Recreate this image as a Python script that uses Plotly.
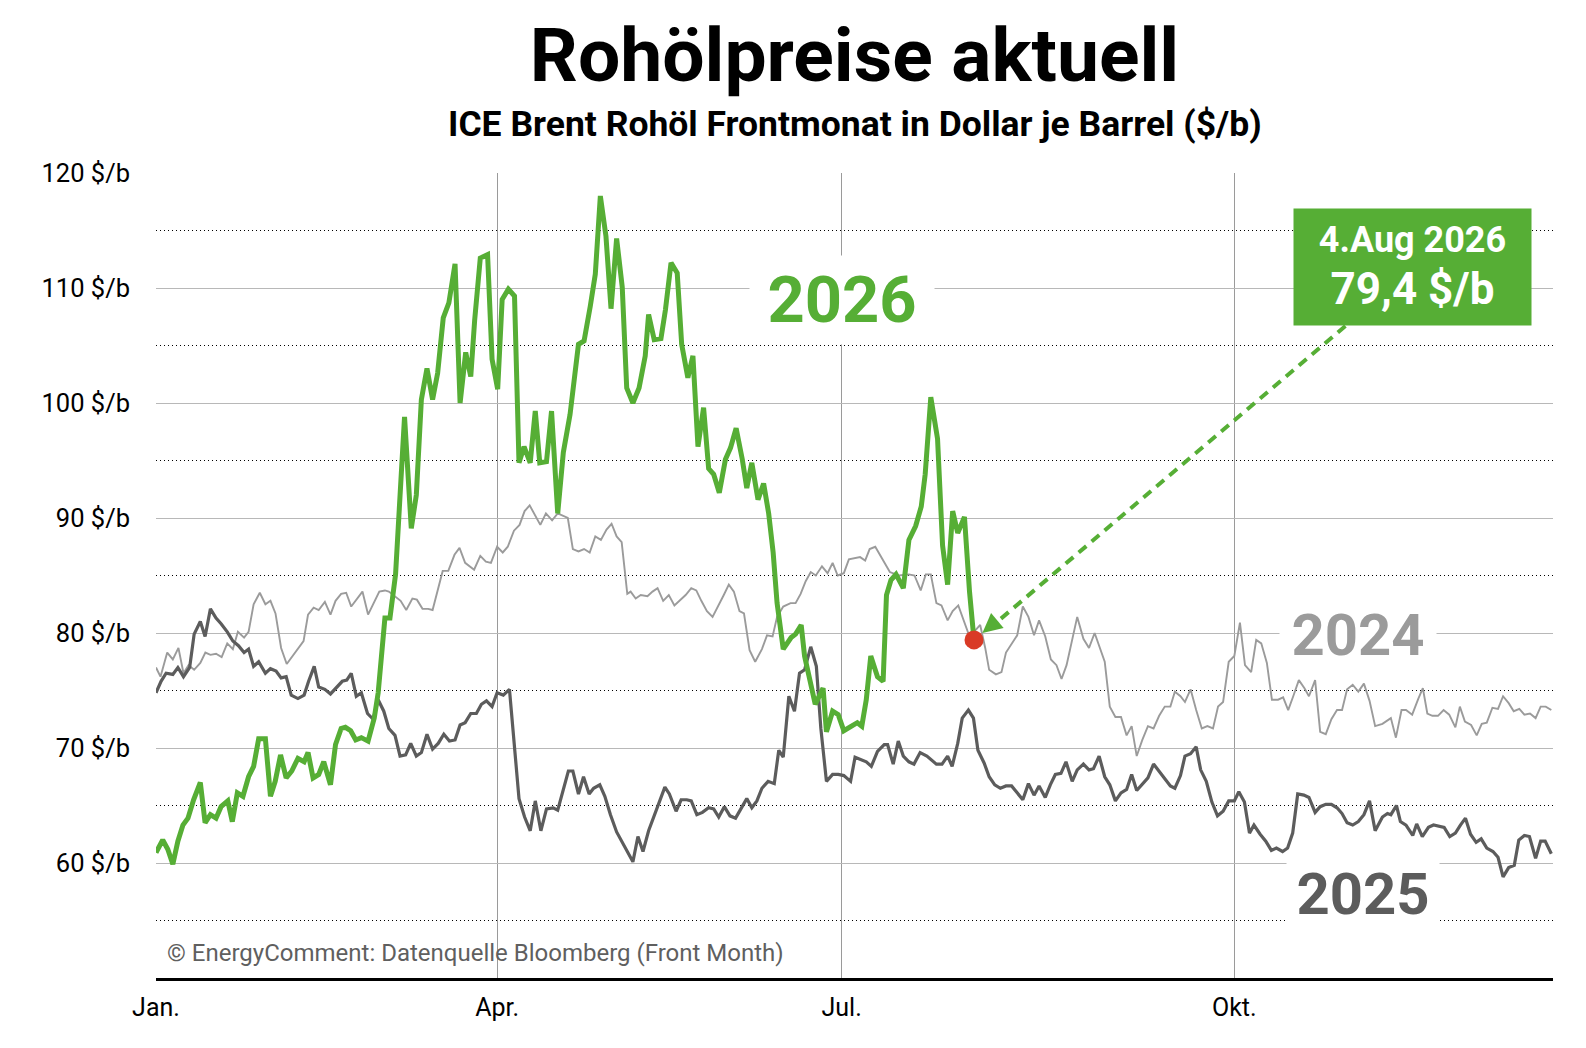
import plotly.graph_objects as go

# Brent Frontmonat, x = Handelstag seit Jahresbeginn, y = Schlusskurs in $/b
tage_2024 = [0, 0.8, 2.0, 3.0, 4.0, 4.9, 5.8, 6.8, 7.9, 8.8, 9.7, 10.7, 11.7, 12.7, 13.7, 14.6, 15.7, 16.5,
             17.4, 18.5, 19.5, 20.4, 21.3, 22.3, 23.3, 24.3, 25.3, 26.3, 27.1, 28.1, 29.0, 30.1, 31.1, 32.0,
             33.0, 33.9, 34.8, 35.8, 36.8, 37.8, 38.8, 39.8, 40.8, 41.5, 43.6, 44.6, 45.7, 46.5, 47.5, 48.5,
             49.3, 50.4, 51.1, 52.1, 53.2, 54.1, 55.1, 56.7, 57.8, 58.8, 59.7, 60.8, 61.8, 62.7, 63.8, 64.8,
             65.7, 66.6, 67.6, 68.5, 69.5, 70.6, 71.6, 73.4, 74.3, 75.3, 76.3, 77.3, 78.3, 79.3, 80.3, 81.2,
             82.1, 83.0, 84.0, 84.6, 85.5, 86.4, 87.6, 88.5, 89.4, 90.4, 91.4, 92.4, 93.3, 94.4, 95.4, 96.3,
             97.2, 98.2, 99.2, 100.2, 101.2, 102.1, 103.0, 104.0, 104.8, 105.8, 106.8, 108.0, 108.9, 109.9,
             110.7, 111.8, 113.1, 114.0, 114.9, 115.8, 116.7, 117.6, 118.7, 119.7, 120.6, 121.5, 122.6, 123.5,
             124.4, 125.5, 126.4, 127.2, 128.2, 129.2, 130.8, 132.4, 134.2, 135.2, 136.3, 137.2, 138.1, 139.1,
             140.0, 141.1, 142.0, 143.0, 144.1, 145.0, 146.0, 146.9, 147.8, 148.5, 149.7, 150.7, 151.5, 152.5,
             153.5, 154.5, 155.5, 156.5, 157.4, 158.5, 159.5, 160.5, 161.4, 162.3, 163.3, 164.2, 165.3, 166.3,
             167.3, 168.3, 169.1, 170.0, 171.0, 172.0, 173.0, 173.9, 174.8, 175.8, 176.8, 177.8, 178.8, 179.8,
             180.8, 181.6, 182.6, 183.4, 184.4, 185.4, 186.4, 187.4, 188.4, 189.3, 190.2, 191.2, 192.2, 193.2,
             194.1, 195.2, 196.1, 197.0, 198.0, 198.9, 200.0, 200.9, 201.8, 202.7, 203.7, 204.7, 205.5, 206.6,
             207.5, 208.5, 209.5, 210.5, 211.4, 212.3, 213.3, 214.3, 215.3, 216.3, 217.3, 218.6, 220.1, 221.0,
             222.0, 222.8, 223.9, 225.0, 225.8, 226.6, 227.5, 228.5, 229.5, 230.5, 231.6, 232.4, 233.3, 234.4,
             235.4, 236.3, 237.2, 238.2, 239.2, 240.1, 241.1, 242.0, 243.0, 243.9, 244.9, 245.9, 246.8, 247.7,
             248.7]
brent_2024 = [77.0, 76.2, 78.3, 77.7, 78.7, 76.5, 77.2, 76.8, 77.4, 78.3, 78.1, 78.2, 77.9, 79.1, 78.6, 80.1,
              79.6, 80.1, 82.5, 83.5, 82.5, 82.8, 81.7, 78.7, 77.3, 78.0, 78.6, 79.3, 81.6, 82.2, 82.0, 82.7,
              81.6, 82.8, 83.4, 83.5, 82.3, 83.0, 83.6, 81.6, 82.6, 83.6, 83.7, 83.6, 82.8, 82.0, 83.0, 82.9,
              82.1, 82.1, 82.0, 84.0, 85.4, 85.4, 86.8, 87.4, 86.1, 85.5, 86.7, 86.2, 86.1, 87.5, 87.0, 87.5,
              88.9, 89.4, 90.6, 91.1, 90.2, 89.4, 90.4, 89.8, 90.4, 90.0, 87.3, 87.1, 87.3, 87.0, 88.4, 88.1,
              89.0, 89.5, 88.4, 87.9, 83.4, 83.6, 83.0, 83.3, 83.2, 83.6, 83.9, 82.8, 83.3, 82.4, 82.8, 83.3,
              83.9, 83.7, 82.8, 81.9, 81.4, 82.3, 83.3, 84.2, 83.6, 81.9, 81.7, 78.5, 77.5, 78.6, 79.8, 79.7,
              81.4, 82.3, 82.6, 82.6, 83.4, 84.5, 85.3, 85.0, 85.8, 85.2, 86.1, 85.0, 85.2, 86.4, 86.5, 86.6,
              86.3, 87.3, 87.5, 86.7, 85.3, 85.0, 85.1, 85.0, 83.7, 85.1, 85.1, 82.6, 82.4, 81.1, 81.9, 82.4,
              80.9, 79.7, 80.2, 80.7, 78.7, 76.8, 76.4, 76.6, 78.3, 79.1, 79.8, 82.3, 81.4, 79.8, 81.1, 79.7,
              77.7, 77.2, 76.0, 77.2, 79.3, 81.4, 79.5, 78.7, 80.0, 78.6, 77.5, 73.6, 72.7, 72.7, 71.1, 71.9,
              69.3, 70.7, 71.9, 71.7, 72.8, 73.6, 73.6, 74.9, 74.5, 74.0, 75.1, 73.3, 71.7, 71.9, 71.7, 73.6,
              74.0, 77.5, 78.0, 80.9, 77.2, 76.6, 79.4, 79.1, 77.4, 74.2, 74.2, 74.4, 73.3, 74.5, 75.9, 75.2,
              74.5, 75.9, 71.4, 71.2, 72.5, 73.3, 73.3, 75.1, 75.5, 74.9, 75.6, 74.1, 71.9, 72.1, 72.6, 70.9,
              73.3, 73.3, 72.9, 74.3, 75.2, 73.0, 72.8, 72.8, 73.3, 72.9, 71.8, 73.6, 72.3, 72.0, 71.1, 72.1,
              72.2, 73.5, 73.4, 74.5, 73.9, 73.2, 73.4, 72.9, 73.0, 72.6, 73.6, 73.6, 73.3]

tage_2025 = [0, 0.9, 1.8, 3.0, 3.9, 4.9, 6.0, 6.8, 7.9, 8.75, 9.7, 10.7, 11.6, 12.7, 13.7, 14.7, 15.7, 16.5,
             17.4, 18.3, 19.5, 20.4, 21.4, 22.3, 23.2, 24.1, 25.3, 26.4, 27.2, 28.2, 29.0, 30.1, 31.1, 32.1,
             33.2, 34.0, 34.8, 35.7, 36.6, 37.7, 38.7, 39.6, 40.6, 41.5, 42.6, 43.5, 44.5, 45.4, 46.4, 47.3,
             48.3, 49.3, 50.3, 51.3, 52.3, 53.3, 54.2, 55.1, 56.1, 57.1, 58.0, 58.9, 59.9, 60.8, 61.9, 63.0,
             63.8, 64.7, 65.7, 66.7, 67.6, 68.6, 69.6, 70.8, 71.6, 72.7, 73.5, 74.3, 75.3, 76.2, 77.2, 78.0,
             79.1, 80.0, 81.0, 82.1, 83.2, 84.0, 85.0, 85.9, 86.8, 87.8, 88.9, 89.9, 90.7, 91.5, 92.7, 93.6,
             94.6, 95.4, 96.4, 97.4, 98.5, 99.4, 100.3, 101.3, 102.3, 103.3, 104.3, 105.3, 106.2, 107.1, 108.0,
             109.1, 110.2, 111.0, 111.8, 112.8, 113.8, 114.7, 115.6, 116.7, 117.7, 118.5, 119.5, 120.6, 121.6,
             122.6, 123.8, 124.6, 126.6, 127.5, 128.6, 129.8, 130.4, 131.4, 132.3, 133.2, 134.2, 135.1, 136.2,
             137.4, 139.1, 140.1, 141.1, 141.9, 142.9, 143.7, 144.8, 145.7, 146.5, 147.6, 148.5, 149.5, 150.5,
             151.5, 152.5, 153.5, 154.5, 155.5, 156.5, 157.4, 158.5, 159.4, 160.3, 161.3, 162.2, 163.3, 164.2,
             165.3, 166.3, 167.1, 168.1, 169.1, 170.0, 171.0, 172.0, 173.0, 173.9, 174.8, 175.8, 176.8, 177.8,
             178.8, 179.8, 180.8, 181.6, 182.6, 183.4, 184.4, 185.4, 186.2, 187.2, 188.2, 189.2, 190.2, 191.2,
             192.2, 193.0, 194.0, 194.9, 195.7, 196.8, 197.8, 198.8, 199.7, 200.8, 201.7, 202.6, 203.5, 204.6,
             205.5, 206.6, 207.5, 208.5, 209.5, 210.5, 211.4, 212.3, 213.3, 214.3, 215.3, 216.3, 217.3, 218.6,
             219.5, 220.1, 221.1, 221.8, 222.8, 224.0, 224.7, 225.7, 226.8, 227.7, 228.7, 229.6, 230.6, 231.6,
             232.5, 233.4, 234.3, 235.3, 236.2, 237.2, 238.3, 239.2, 240.1, 241.1, 242.1, 242.9, 243.9, 244.8,
             245.9, 246.8, 247.6, 248.7]
brent_2025 = [74.8, 75.8, 76.5, 76.4, 77.0, 76.2, 77.0, 79.9, 81.0, 79.7, 82.1, 81.3, 80.8, 80.1, 79.3, 78.9,
              78.3, 78.6, 77.1, 77.5, 76.5, 76.9, 76.7, 76.1, 76.2, 74.6, 74.3, 74.6, 75.8, 77.1, 75.3, 75.1,
              74.7, 75.2, 75.8, 75.9, 76.5, 74.5, 74.8, 73.0, 72.5, 74.2, 73.2, 71.7, 71.1, 69.3, 69.4, 70.4,
              69.3, 69.6, 71.2, 69.9, 70.4, 71.2, 70.6, 70.7, 72.0, 72.2, 73.0, 73.0, 73.8, 74.1, 73.6, 74.8,
              74.6, 75.1, 70.4, 65.6, 64.0, 62.8, 65.4, 62.8, 64.7, 64.8, 64.6, 66.6, 68.0, 68.0, 66.0, 67.5,
              66.0, 66.5, 66.8, 65.8, 64.2, 62.7, 61.7, 61.0, 60.1, 62.3, 61.0, 62.8, 64.3, 65.5, 66.6, 66.0,
              64.5, 65.5, 65.5, 65.4, 64.2, 64.4, 64.8, 64.7, 64.0, 64.9, 64.1, 63.9, 64.7, 65.6, 64.8, 65.4,
              66.5, 67.1, 66.9, 69.8, 69.2, 74.5, 73.2, 76.5, 76.8, 78.8, 77.1, 71.7, 67.1, 67.7, 67.7, 67.6,
              67.1, 69.2, 68.8, 68.4, 69.7, 70.3, 70.3, 68.6, 70.6, 69.3, 68.8, 68.6, 69.6, 69.3, 68.6, 68.6,
              69.3, 68.4, 70.4, 72.6, 73.3, 72.6, 69.8, 68.7, 67.5, 66.8, 66.5, 66.7, 66.7, 66.1, 65.5, 66.9,
              65.9, 66.7, 65.7, 66.8, 67.7, 67.8, 68.8, 67.1, 68.1, 68.6, 68.1, 68.2, 69.3, 67.5, 66.8, 65.4,
              66.1, 66.4, 67.7, 66.3, 66.9, 67.4, 68.6, 68.0, 67.4, 66.7, 66.5, 67.6, 69.3, 69.5, 70.1, 68.1,
              67.1, 65.3, 64.1, 64.5, 65.4, 65.4, 66.2, 65.3, 62.6, 63.3, 62.5, 61.9, 61.1, 61.3, 61.0, 61.3,
              62.6, 66.0, 65.9, 65.7, 64.4, 64.9, 65.1, 65.1, 64.8, 64.3, 63.5, 63.3, 63.6, 64.2, 65.4, 62.8,
              64.0, 64.3, 64.2, 65.0, 63.6, 63.3, 62.4, 63.4, 62.3, 63.1, 63.3, 63.2, 63.1, 62.3, 62.6, 63.3,
              63.9, 62.5, 61.8, 62.1, 61.3, 61.0, 60.5, 58.8, 59.6, 59.8, 62.0, 62.4, 62.3, 60.4, 61.9, 61.9,
              60.8]

tage_2026 = [0, 1.2, 2.1, 3.0, 3.9, 4.8, 5.7, 6.7, 7.9, 8.75, 9.7, 10.7, 11.6, 12.8, 13.6, 14.5, 15.5, 16.5,
             17.4, 18.3, 19.5, 20.4, 21.25, 22.2, 23.2, 24.2, 25.3, 26.4, 27.1, 28.0, 29.0, 29.9, 31.1, 32.0,
             33.0, 33.75, 34.7, 35.6, 36.6, 37.8, 38.9, 39.6, 40.8, 41.7, 42.7, 44.3, 45.5, 46.4, 47.3, 48.3,
             49.3, 50.2, 51.2, 52.2, 53.3, 54.2, 55.2, 56.1, 56.8, 57.8, 59.1, 59.9, 60.9, 61.7, 62.8, 63.9,
             64.7, 65.6, 66.7, 67.6, 68.4, 69.6, 70.5, 71.6, 72.6, 73.8, 75.3, 76.3, 77.4, 78.3, 79.2, 80.2,
             81.1, 82.1, 83.1, 83.9, 85.0, 86.1, 87.2, 87.8, 88.8, 90.0, 90.8, 91.8, 92.9, 93.7, 94.8, 95.7,
             96.6, 97.6, 98.5, 99.4, 100.4, 101.5, 102.4, 103.4, 104.5, 105.3, 106.2, 107.3, 108.3, 109.2,
             110.0, 110.7, 111.8, 113.2, 114.0, 115.0, 115.6, 117.5, 118.9, 119.5, 120.6, 121.6, 122.6, 123.8,
             125.0, 125.8, 126.6, 127.4, 128.6, 129.6, 130.2, 131.0, 131.9, 133.2, 134.2, 135.4, 136.4, 137.1,
             138.1, 139.3, 140.2, 141.1, 142.0, 142.9, 144.1, 145.0, 145.8]
brent_2026 = [60.9, 62.0, 61.2, 59.9, 61.9, 63.3, 63.9, 65.5, 67.0, 63.5, 64.2, 63.9, 64.9, 65.4, 63.6, 66.1,
              65.8, 67.5, 68.4, 70.8, 70.8, 65.8, 67.1, 69.4, 67.4, 68.0, 69.1, 68.8, 69.6, 67.4, 67.7, 68.8,
              66.8, 70.3, 71.7, 71.8, 71.5, 70.7, 70.9, 70.6, 72.6, 74.8, 81.3, 81.3, 85.1, 98.8, 89.1, 92.0,
              100.3, 103.0, 100.3, 102.6, 107.4, 108.7, 112.1, 100.0, 104.4, 102.3, 107.2, 112.6, 112.9, 103.8,
              101.2, 109.0, 109.9, 109.3, 94.8, 96.2, 94.8, 99.3, 94.8, 94.9, 99.3, 90.4, 95.7, 99.0, 105.1,
              105.4, 108.4, 111.2, 118.0, 114.5, 108.2, 114.3, 110.1, 101.3, 100.0, 101.3, 104.1, 107.7, 105.5,
              105.6, 108.1, 112.2, 111.3, 105.1, 102.2, 104.1, 96.2, 99.6, 94.3, 93.8, 92.2, 95.1, 96.1, 97.8,
              95.1, 92.6, 94.8, 91.6, 93.0, 90.4, 87.0, 82.6, 78.6, 79.6, 79.9, 80.7, 78.0, 73.8, 75.2, 71.4,
              73.2, 72.9, 71.5, 71.9, 72.2, 71.9, 74.2, 78.0, 76.2, 75.8, 83.3, 84.6, 85.1, 83.9, 88.1, 89.3,
              91.0, 93.8, 100.5, 96.9, 87.6, 84.2, 90.6, 88.7, 90.1, 83.6, 79.4]

monate = ["Jan.", "Apr.", "Jul.", "Okt."]
monats_tage = [0, 60.8, 122.2, 192.2]
preis_ticks = [60, 70, 80, 90, 100, 110, 120]
preis_punktlinien = [55, 65, 75, 85, 95, 105, 115]
letzter_kurs = "79,4 $/b"
letztes_datum = "4.Aug 2026"

GRUEN = "#56ae35"
GRAU_25 = "#5c5c5c"
GRAU_24 = "#9b9b9b"

fig = go.Figure()
fig.add_trace(go.Scatter(x=tage_2024, y=brent_2024, mode="lines",
                         line=dict(color=GRAU_24, width=1.9)))
fig.add_trace(go.Scatter(x=tage_2025, y=brent_2025, mode="lines",
                         line=dict(color=GRAU_25, width=3.2)))
fig.add_trace(go.Scatter(x=tage_2026, y=brent_2026, mode="lines",
                         line=dict(color=GRUEN, width=5)))
fig.add_trace(go.Scatter(x=[tage_2026[-1]], y=[brent_2026[-1]], mode="markers",
                         marker=dict(color="#d93a26", size=19)))

# Jahreslabels mit weissem Hintergrund (verdecken die Gitterlinien)
fig.add_annotation(x=122.2, y=109.0, text="<b>2026</b>", showarrow=False,
                   font=dict(family="Roboto", size=65, color=GRUEN),
                   bgcolor="white", width=184, height=88, borderpad=0)
fig.add_annotation(x=214.2, y=79.8, text="<b>2024</b>", showarrow=False,
                   font=dict(family="Roboto", size=58, color=GRAU_24),
                   bgcolor="white", width=156, height=80, borderpad=0)
fig.add_annotation(x=215.2, y=57.3, text="<b>2025</b>", showarrow=False,
                   font=dict(family="Roboto", size=58, color=GRAU_25),
                   bgcolor="white", width=152, height=80, borderpad=0)

# gestrichelter Pfeil zum letzten Kurs
fig.add_shape(type="line", x0=212.0, y0=106.7, x1=150.0, y1=81.0,
              line=dict(color=GRUEN, width=4, dash="10px,7px"), layer="above")
fig.add_annotation(x=147.3, y=80.0, ax=15, ay=-12.6, text="", showarrow=True,
                   arrowhead=2, arrowsize=1.3, arrowwidth=3, arrowcolor=GRUEN, standoff=0)

# Kasten mit Datum und Preis
fig.add_annotation(x=223.9, y=111.8, showarrow=False,
                   text=f"<b><span style='font-size:36px'>{letztes_datum}</span><br>"
                        f"<span style='font-size:44px'>{letzter_kurs}</span></b>",
                   font=dict(family="Roboto", color="white", size=40),
                   bgcolor=GRUEN, width=237, height=116, borderpad=0)

fig.add_annotation(xref="paper", yref="paper", x=0.5, y=1.0609, yanchor="middle",
                   text="<b>ICE Brent Rohöl Frontmonat in Dollar je Barrel ($/b)</b>",
                   showarrow=False, font=dict(family="Roboto", size=35.5, color="black"))
fig.add_annotation(xref="paper", yref="paper", x=0.0066, y=0.031, xanchor="left", yanchor="middle",
                   text="© EnergyComment: Datenquelle Bloomberg (Front Month)",
                   showarrow=False, font=dict(family="Roboto", size=24, color="#5f5f5f"))

fig.update_layout(
    width=1586, height=1048,
    margin=dict(l=148, r=41, t=165, b=78),
    paper_bgcolor="white", plot_bgcolor="white",
    showlegend=False, hovermode=False,
    font=dict(family="Roboto", color="black"),
    title=dict(text="<b>Rohölpreise aktuell</b>", x=0.5, xref="paper",
               y=1 - 47 / 1048, yref="container", yanchor="middle",
               font=dict(family="Roboto", size=75, color="black")),
    xaxis=dict(range=[0, 249], tickmode="array", tickvals=monats_tage, ticktext=monate,
               showgrid=False, zeroline=False, showline=True, linecolor="black", linewidth=2.5,
               ticks="", ticklabelstandoff=5, tickfont=dict(size=25, color="black"),
               minor=dict(tickmode="array", tickvals=monats_tage[1:], showgrid=True,
                          gridcolor="#9a9a9a", gridwidth=1)),
    yaxis=dict(range=[50, 120], tickmode="array", tickvals=preis_ticks,
               ticktext=[f"{p} $/b" for p in preis_ticks],
               showgrid=True, gridcolor="#b8b8b8", gridwidth=1.3, zeroline=False, showline=False,
               ticks="", ticklabelstandoff=25, tickfont=dict(size=25.5, color="black"),
               minor=dict(tickmode="array", tickvals=preis_punktlinien, showgrid=True,
                          gridcolor="black", gridwidth=1, griddash="1px,3px")),
)

fig.write_html("out.html")
